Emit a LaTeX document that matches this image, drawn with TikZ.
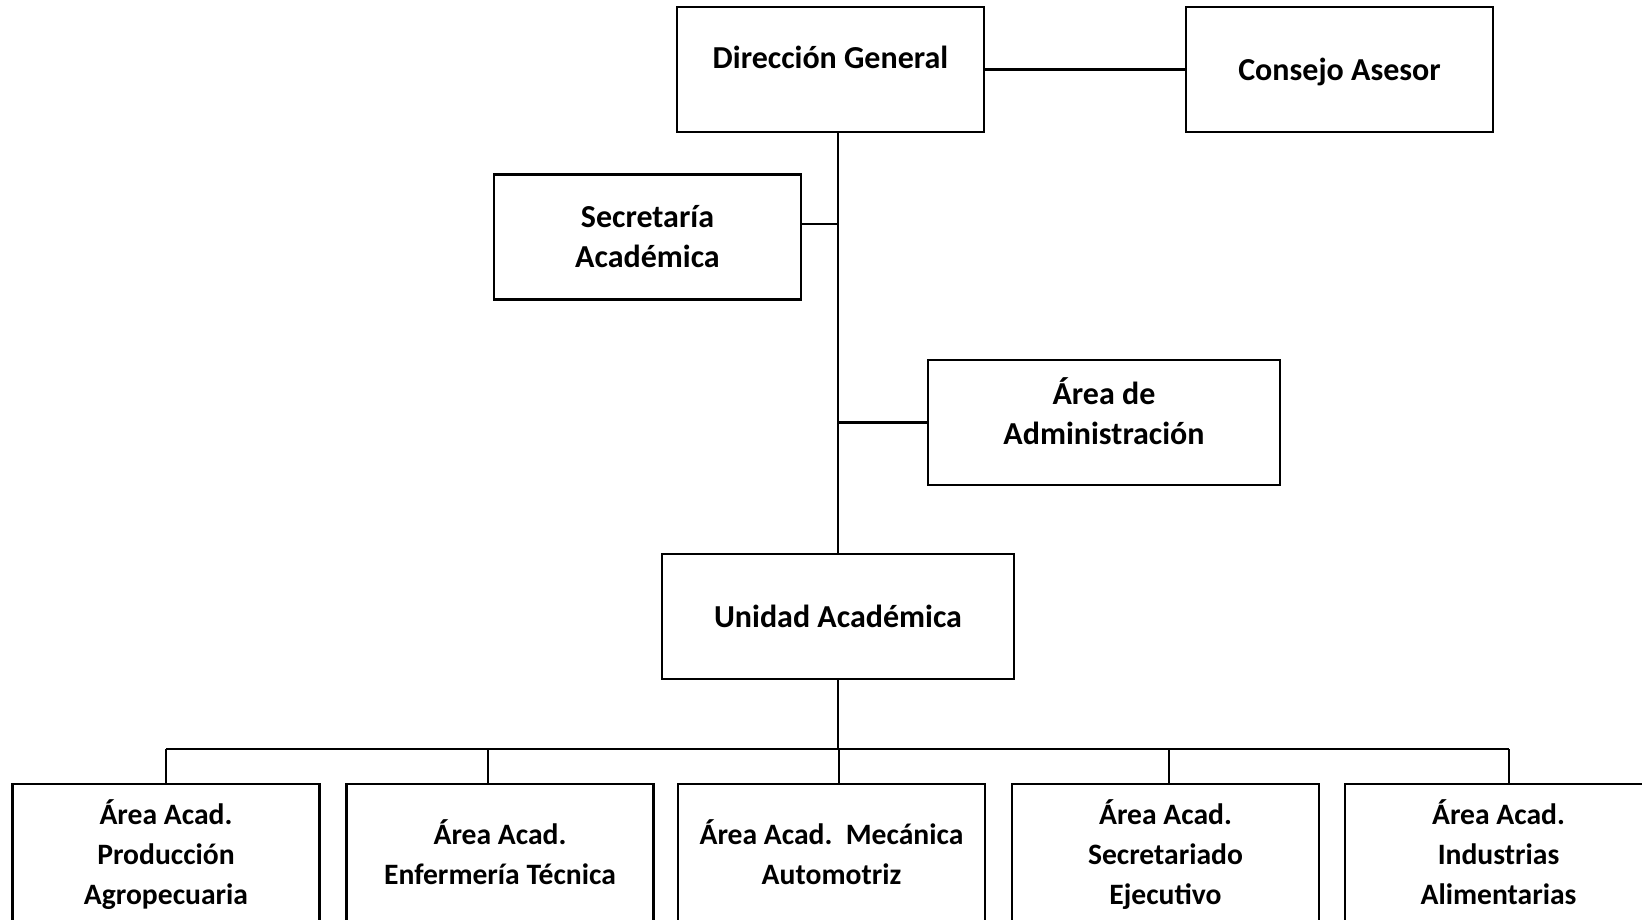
\documentclass[tikz,border=0pt]{standalone}
\usepackage{fontspec}
\setmainfont{Carlito}
\usepackage{tikz}

\begin{document}
\begin{tikzpicture}[x=1pt,y=-1pt,
	box/.style={draw, line width=2.5pt, minimum width=307pt, minimum height=125pt, align=center, inner sep=0pt,
		font=\fontsize{32pt}{40pt}\selectfont\bfseries},
	wide/.style={box, minimum width=352pt},
	area/.style={box, minimum height=140pt, text depth=4pt, font=\fontsize{29.6pt}{40pt}\selectfont\bfseries},
	link/.style={line width=2.5pt}]
	\clip (0,0) rectangle (1642,920);
	\fill[white] (0,0) rectangle (1642,920);

	\node[box, text depth=25pt] (dir) at (830.5,69.5) {Dirección General};
	\node[box, text depth=1pt] (cons) at (1339.5,69.5) {Consejo Asesor};
	\node[box] (sec) at (647.5,237) {Secretaría\\Académica};
	\node[wide, text depth=22pt] (adm) at (1104,422.5) {Área de\\Administración};
	\node[wide] (uni) at (838,616.5) {Unidad Académica};

	\node[area] (a1) at (166,854) {Área Acad.\\Producción\\Agropecuaria};
	\node[area] (a2) at (500,854) {Área Acad.\\Enfermería Técnica};
	\node[area] (a3) at (831.5,854) {Área Acad.\ \ Mecánica\\Automotriz};
	\node[area] (a4) at (1165.5,854) {Área Acad.\\Secretariado\\Ejecutivo};
	\node[area] (a5) at (1498.5,854) {Área Acad.\\Industrias\\Alimentarias};

	\coordinate (bus) at (0,749);
	\coordinate (secjoin) at ([yshift=13pt]sec.east);

	\draw[link] (dir.east) -- (cons.west);
	\draw[link] (uni.north |- dir.south) -- (uni.north);
	\draw[link] (secjoin) -- (uni.north |- secjoin);
	\draw[link] (adm.west) -- (adm.west -| uni.north);
	\draw[link] (uni.south) -- (uni.south |- bus);
	\draw[link] (a1.north |- bus) -- ([xshift=10.5pt]a5.north |- bus);
	\foreach \n/\dx in {a1/0, a2/-12, a3/7.5, a4/3.5, a5/10.5}
		\draw[link] ([xshift=\dx pt]\n.north) -- ([xshift=\dx pt]\n.north |- bus);
\end{tikzpicture}
\end{document}
